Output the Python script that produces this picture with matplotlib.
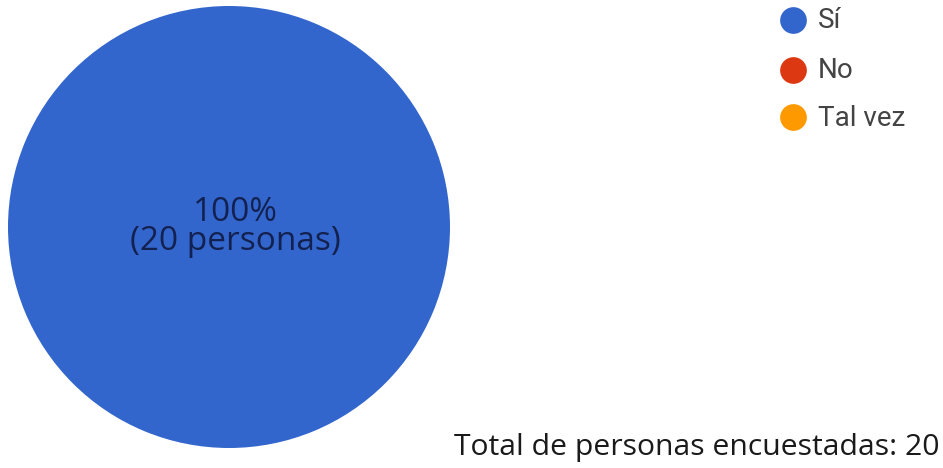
import matplotlib.pyplot as plt

# survey answers
labels = ["Sí", "No", "Tal vez"]
counts = [20, 0, 0]
colors = ["#3366cc", "#dc3912", "#ff9900"]
total = sum(counts)

W, H = 943, 468
fig = plt.figure(figsize=(W / 100, H / 100), dpi=100)
fig.patch.set_facecolor("white")

# pie axes, placed in pixel units
px_left, px_top, px_right, px_bottom = 7, 6, 451, 448
ax = fig.add_axes([px_left / W, 1 - px_bottom / H,
                   (px_right - px_left) / W, (px_bottom - px_top) / H])
ax.pie(counts, colors=colors, startangle=90, counterclock=False,
       radius=1, wedgeprops=dict(linewidth=0))
ax.set_xlim(-1, 1)
ax.set_ylim(-1, 1)
ax.set_aspect("equal")
ax.axis("off")

# label for the only non-empty slice
pct = 100 * counts[0] / total
ax.text(0.03, 0.0, "{:.0f}%\n({} personas)".format(pct, counts[0]),
        ha="center", va="center", fontsize=24, family="Open Sans",
        color="#132150", linespacing=0.85)

# overlay in pixel coordinates for the legend and footer
ov = fig.add_axes([0, 0, 1, 1])
ov.set_xlim(0, W)
ov.set_ylim(H, 0)
ov.axis("off")

leg_y = [20, 70, 117]
for lab, col, y in zip(labels, colors, leg_y):
    ov.scatter(793, y, s=370, color=col, linewidths=0)
    ov.text(818, y + 1, lab, ha="left", va="center", fontsize=20,
            family="Roboto", color="#444444")

ov.text(940, 447, "Total de personas encuestadas: {}".format(total),
        ha="right", va="center", fontsize=21.7, family="Open Sans",
        color="#1a1a1a")

fig.savefig("out.png", dpi=100)
